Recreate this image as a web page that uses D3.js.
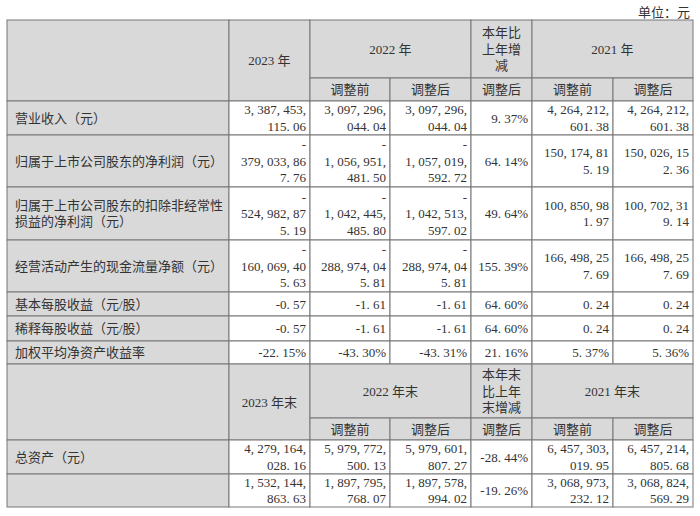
<!DOCTYPE html>
<html><head><meta charset="utf-8">
<script src="https://cdn.jsdelivr.net/npm/d3@7"></script>
<style>body{margin:0;background:#fff}svg text{font-family:"Liberation Serif","Noto Sans CJK SC",serif;fill:#333;font-size:13px}</style>
</head><body><svg id="c" width="700" height="516"></svg>
<script>
const colEdges=[7,229,310,390,471,532,613,693];
const rowLabels=["营业收入（元）","归属于上市公司股东的净利润（元）","归属于上市公司股东的扣除非经常性|损益的净利润（元）","经营活动产生的现金流量净额（元）","基本每股收益（元/股）","稀释每股收益（元/股）","加权平均净资产收益率"];
const rowEdges=[101,135,187,240,292,316,341,364];
const v2023=["3, 387, 453,|115. 06","-|379, 033, 86|7. 76","-|524, 982, 87|5. 19","-|160, 069, 40|5. 63","-0. 57","-0. 57","-22. 15%"];
const v2022pre=["3, 097, 296,|044. 04","-|1, 056, 951,|481. 50","-|1, 042, 445,|485. 80","-|288, 974, 04|5. 81","-1. 61","-1. 61","-43. 30%"];
const v2022post=["3, 097, 296,|044. 04","-|1, 057, 019,|592. 72","-|1, 042, 513,|597. 02","-|288, 974, 04|5. 81","-1. 61","-1. 61","-43. 31%"];
const vChange=["9. 37%","64. 14%","49. 64%","155. 39%","64. 60%","64. 60%","21. 16%"];
const v2021pre=["4, 264, 212,|601. 38","150, 174, 81|5. 19","100, 850, 98|1. 97","166, 498, 25|7. 69","0. 24","0. 24","5. 37%"];
const v2021post=["4, 264, 212,|601. 38","150, 026, 15|2. 36","100, 702, 31|9. 14","166, 498, 25|7. 69","0. 24","0. 24","5. 36%"];
const bRowLabels=["总资产（元）",""];
const bRowEdges=[440,474,507];
const b2023=["4, 279, 164,|028. 16","1, 532, 144,|863. 63"];
const b2022pre=["5, 979, 772,|500. 13","1, 897, 795,|768. 07"];
const b2022post=["5, 979, 601,|807. 27","1, 897, 578,|994. 02"];
const bChange=["-28. 44%","-19. 26%"];
const b2021pre=["6, 457, 303,|019. 95","3, 068, 973,|232. 12"];
const b2021post=["6, 457, 214,|805. 68","3, 068, 824,|569. 29"];

const svg=d3.select("#c");
const gray="#d9d9d9", line="#777", LH=16.5;
const texts=[];
function cell(x0,x1,y0,y1,fill,txt,align){
  svg.append("rect").attr("x",x0).attr("y",y0).attr("width",x1-x0).attr("height",y1-y0).attr("fill",fill).attr("stroke",line).attr("stroke-width",1);
  if(!txt) return;
  const lines=txt.split("|");
  const cy=(y0+y1)/2-(lines.length-1)*LH/2;
  const x=align==="start"?x0+8:align==="end"?x1-4:(x0+x1)/2;
  lines.forEach((l,i)=>texts.push({x,y:cy+i*LH,align,t:l}));
}
function header(y0,ym,y1,t23,t22,tch,t21){
  const E=colEdges;
  cell(E[0],E[1],y0,y1,gray,"","middle");
  cell(E[1],E[2],y0,y1,gray,t23,"middle");
  cell(E[2],E[4],y0,ym,gray,t22,"middle");
  cell(E[4],E[5],y0,ym,gray,tch,"middle");
  cell(E[5],E[7],y0,ym,gray,t21,"middle");
  ["调整前","调整后","调整后","调整前","调整后"].forEach((t,i)=>cell(E[i+2],E[i+3],ym,y1,gray,t,"middle"));
}
function body(labels,edges,cols){
  labels.forEach((lab,r)=>{
    const y0=edges[r],y1=edges[r+1];
    cell(colEdges[0],colEdges[1],y0,y1,gray,lab,"start");
    cols.forEach((c,j)=>cell(colEdges[j+1],colEdges[j+2],y0,y1,"#fff",c[r],"end"));
  });
}
header(20,78,101,"2023 年","2022 年","本年比|上年增|减","2021 年");
body(rowLabels,rowEdges,[v2023,v2022pre,v2022post,vChange,v2021pre,v2021post]);
header(364,418,440,"2023 年末","2022 年末","本年末|比上年|末增减","2021 年末");
body(bRowLabels,bRowEdges,[b2023,b2022pre,b2022post,bChange,b2021pre,b2021post]);
texts.forEach(d=>svg.append("text").attr("x",d.x).attr("y",d.y).attr("dy","0.35em").attr("text-anchor",d.align).text(d.t));
svg.append("text").attr("x",690).attr("y",12).attr("text-anchor","end").attr("dy","0.35em").text("单位：元");
</script></body></html>
